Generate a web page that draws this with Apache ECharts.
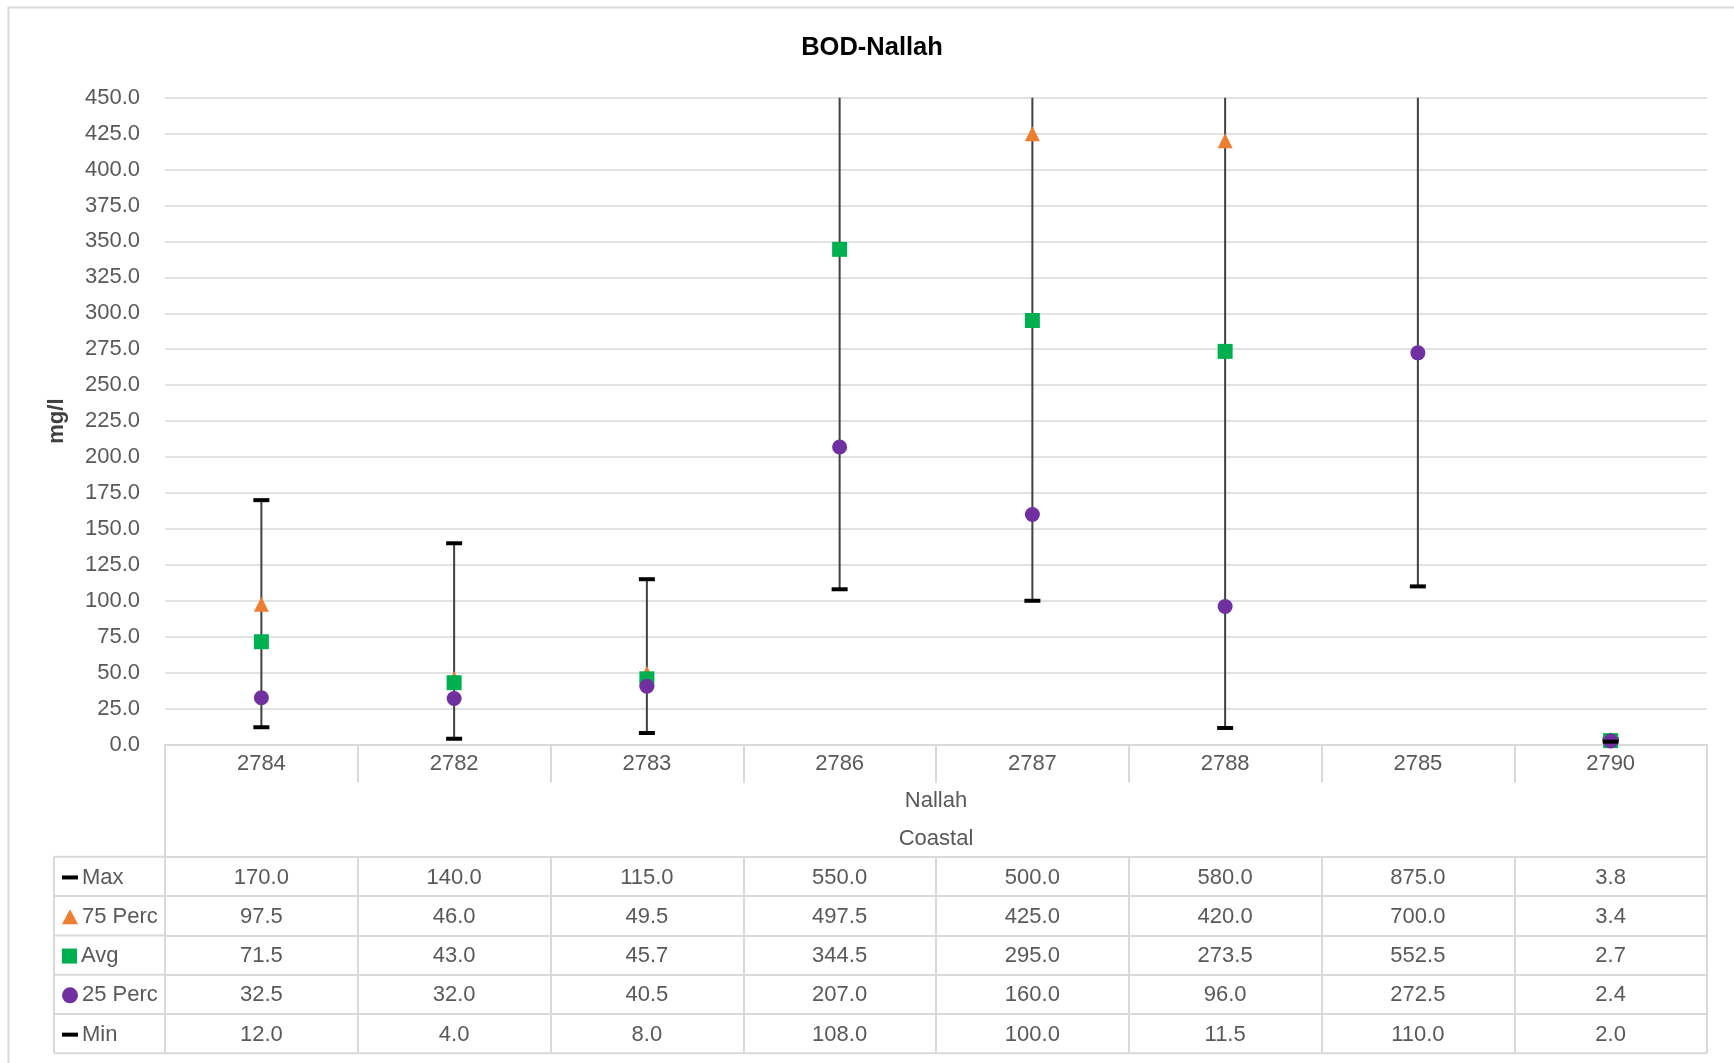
<!DOCTYPE html>
<html><head><meta charset="utf-8">
<script src="https://cdn.jsdelivr.net/npm/echarts/dist/echarts.min.js"></script>
<style>html,body{margin:0;padding:0;background:#fff}#c{width:1734px;height:1063px}</style>
</head><body><div id="c"></div><script>
const categories = ['2784','2782','2783','2786','2787','2788','2785','2790'];
const groupLabels = ['Nallah','Coastal'];
const maxVals = [170.0,140.0,115.0,550.0,500.0,580.0,875.0,3.8];
const p75Vals = [97.5,46.0,49.5,497.5,425.0,420.0,700.0,3.4];
const avgVals = [71.5,43.0,45.7,344.5,295.0,273.5,552.5,2.7];
const p25Vals = [32.5,32.0,40.5,207.0,160.0,96.0,272.5,2.4];
const minVals = [12.0,4.0,8.0,108.0,100.0,11.5,110.0,2.0];
const seriesNames = ['Max','75 Perc','Avg','25 Perc','Min'];
const titleText = 'BOD-Nallah';
const yAxisTitle = 'mg/l';
const yMin = 0, yMax = 450, yStep = 25;

const FONT = "'Liberation Sans', Arial, sans-serif";
const FS = 22;
const TXT = '#595959', GRID = '#D9D9D9';
const W = 1734, H = 1063;
const L = 165, R = 1707, T = 97.7, B = 744.5;
const CAT_ROW_B = 782.5;
const TABLE_TOP = 856.8, ROW_H = 39.3, TABLE_L = 54;
const tableRows = [maxVals, p75Vals, avgVals, p25Vals, minVals];
const colors = ['#000000', '#ED7D31', '#00B050', '#7030A0', '#000000'];
const icons = ['rect', 'triangle', 'rect', 'circle', 'rect'];
const iconSize = [[16,4],[16,15],[15,15],[16,16],[16,4]];

const chart = echarts.init(document.getElementById('c'), null, {renderer:'canvas'});

const mainX = {
  type:'category', gridIndex:0, position:'bottom', data:categories, boundaryGap:true,
  axisLine:{show:true, lineStyle:{color:GRID, width:2}},
  axisTick:{show:true, interval:0, length:CAT_ROW_B - B, lineStyle:{color:GRID, width:2}},
  axisLabel:{interval:0, margin:19, verticalAlign:'middle', fontSize:FS, color:TXT, fontFamily:FONT},
  splitLine:{show:false}
};
const tableX = tableRows.map((vals, k) => ({
  type:'category', gridIndex:0, position:'bottom', offset: TABLE_TOP + k*ROW_H - B,
  data:categories, boundaryGap:true,
  axisLine:{show:true, lineStyle:{color:GRID, width:2}},
  axisTick:{show:true, interval:0, length:ROW_H, lineStyle:{color:GRID, width:2}},
  axisLabel:{interval:0, margin:ROW_H/2 + 1, verticalAlign:'middle', fontSize:FS, color:TXT, fontFamily:FONT,
    formatter:(v, i) => vals[i].toFixed(1)},
  splitLine:{show:false}
}));

const legends = seriesNames.map((name, k) => ({
  data:[{name:name, icon:icons[k]}],
  left:62, top: TABLE_TOP + k*ROW_H + ROW_H/2 - 10,
  itemWidth:iconSize[k][0], itemHeight:iconSize[k][1], padding:0, itemGap:0,
  selectedMode:false,
  textStyle:{fontSize:FS, lineHeight:22, color:TXT, fontFamily:FONT, padding:[0,0,0,-1]}
}));

function gline(x1,y1,x2,y2){
  return {type:'line', silent:true, shape:{x1,y1,x2,y2}, style:{stroke:GRID, lineWidth:2}};
}
const graphics = [
  {type:'rect', silent:true, shape:{x:8.5, y:7.5, width:W+20, height:H+20}, style:{fill:null, stroke:GRID, lineWidth:2}},
  {type:'text', silent:true, x:57, y:(T+B)/2, rotation:Math.PI/2,
    style:{text:yAxisTitle, font:'bold 22px ' + FONT, fill:'#404040', textAlign:'center', textVerticalAlign:'middle'}},
  {type:'text', silent:true, x:(L+R)/2, y:801,
    style:{text:groupLabels[0], font:FS + 'px ' + FONT, fill:TXT, textAlign:'center', textVerticalAlign:'middle'}},
  {type:'text', silent:true, x:(L+R)/2, y:839,
    style:{text:groupLabels[1], font:FS + 'px ' + FONT, fill:TXT, textAlign:'center', textVerticalAlign:'middle'}},
  gline(L, CAT_ROW_B - 1, L, TABLE_TOP),
  gline(R, CAT_ROW_B - 1, R, TABLE_TOP),
  gline(TABLE_L, TABLE_TOP, TABLE_L, TABLE_TOP + 5*ROW_H),
  gline(TABLE_L, TABLE_TOP + 5*ROW_H, R, TABLE_TOP + 5*ROW_H)
];
for (let k = 0; k < 5; k++) graphics.push(gline(TABLE_L, TABLE_TOP + k*ROW_H, L, TABLE_TOP + k*ROW_H));

function scatterSeries(name, vals, k){
  return {
    type:'scatter', name:name, xAxisIndex:0, yAxisIndex:0, data:vals,
    symbol:icons[k], symbolSize:(k===0||k===4)?[16,4]:15,
    itemStyle:{color:colors[k], opacity:1}, clip:true, z:3+k,
    emphasis:{disabled:true}
  };
}

const option = {
  animation:false,
  backgroundColor:'#ffffff',
  title:{text:titleText, left:872, textAlign:'center', top:35, padding:0,
    textStyle:{fontSize:25.5, fontWeight:'bold', color:'#000000', fontFamily:FONT}},
  grid:{left:L, right:W-R, top:T, bottom:H-B, containLabel:false},
  legend:legends,
  xAxis:[mainX].concat(tableX),
  yAxis:{type:'value', min:yMin, max:yMax, interval:yStep,
    axisLine:{show:false}, axisTick:{show:false},
    axisLabel:{margin:25, fontSize:FS, color:TXT, fontFamily:FONT, formatter:v => v.toFixed(1)},
    splitLine:{show:true, lineStyle:{color:GRID, width:1.5}}},
  graphic:graphics,
  series:[
    {type:'custom', name:'range', xAxisIndex:0, yAxisIndex:0, clip:true, z:2,
      data:categories.map((c,i) => [i, minVals[i], maxVals[i]]),
      renderItem:(params, api) => {
        const p1 = api.coord([api.value(0), api.value(1)]);
        const p2 = api.coord([api.value(0), api.value(2)]);
        return {type:'line', shape:{x1:p1[0], y1:p1[1], x2:p2[0], y2:p2[1]}, style:{stroke:'#404040', lineWidth:2}};
      }},
    scatterSeries(seriesNames[1], p75Vals, 1),
    scatterSeries(seriesNames[2], avgVals, 2),
    scatterSeries(seriesNames[3], p25Vals, 3),
    scatterSeries(seriesNames[0], maxVals, 0),
    scatterSeries(seriesNames[4], minVals, 4)
  ]
};
chart.setOption(option);
</script></body></html>
